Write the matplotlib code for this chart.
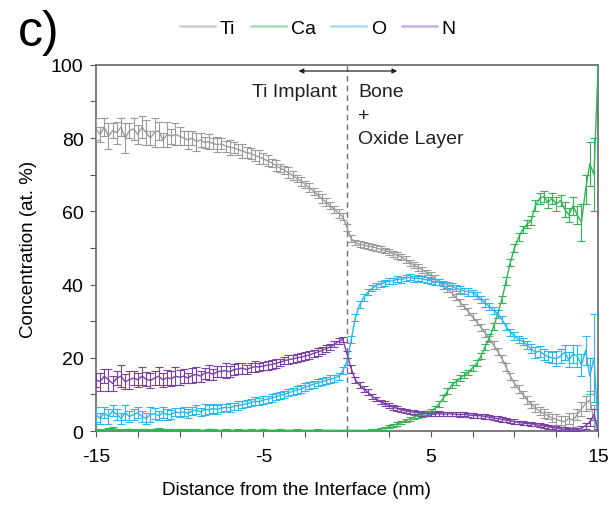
import numpy as np
import matplotlib
matplotlib.use("Agg")
import matplotlib.pyplot as plt
from matplotlib.lines import Line2D

plt.rcParams['font.family'] = ['Liberation Sans', 'DejaVu Sans']
plt.rcParams['axes.unicode_minus'] = False

# distance from the interface (nm), one point every 0.25 nm
dist = np.arange(-15, 15.001, 0.25)

ti = [82.5, 81, 83, 80.5, 82, 81.5, 83, 80, 82, 82.5, 81, 83, 81.5, 80, 81.5, 82, 79.5, 81, 80.5, 81, 80.5,
      80, 79.5, 80, 79, 79.5, 78.8, 79, 78.5, 78.2, 78.4, 77.8, 77.5, 77.3, 76.8, 76.5, 76, 75.8, 75.2, 74.8, 74.3,
      73.8, 73.2, 72.5, 71.8, 71.3, 70.5, 69.7, 69, 68.2, 67.3, 66.5, 65.5, 64.5, 63.4, 62.5, 61.5, 60.5, 59.5, 58.5, 55.5,
      52.5, 51.5, 51, 50.8, 50.5, 50.3, 50, 49.6, 49.3, 49, 48.4, 48, 47.5, 46.8, 46, 45.3, 44.7, 44, 43.3, 42.5,
      41.7, 40.7, 39.8, 38.8, 37.7, 36.5, 35.2, 34, 32.6, 31.2, 29.8, 28.3, 26.8, 25.2, 23.5, 21.8, 19.8, 17.5, 15, 13,
      11.5, 10, 8.5, 7.3, 6.3, 5.5, 4.8, 4.2, 3.6, 3.2, 2.8, 2.6, 3.5, 3, 4.5, 6, 7.5, 8.5, 3, 0.5]
ti_err = [3, 2, 2.5, 3.5, 2, 3, 2.5, 4, 2, 3, 2.5, 3, 3.5, 2, 4, 2.5, 2, 3.5, 2, 3, 2.5,
          2, 2.5, 2, 2.5, 2, 1.5, 2, 1.5, 2, 1.5, 1.5, 2, 1.5, 1.5, 2, 1.5, 1.5, 1.5, 2, 1.5,
          1.5, 1.2, 1.5, 1.2, 1.2, 1.5, 1.2, 1, 1.2, 1, 1.2, 1, 1, 1.2, 1, 1, 1, 1.2, 1, 1,
          1, 0.8, 0.8, 0.8, 0.8, 0.8, 0.8, 0.8, 0.8, 0.8, 0.8, 1, 0.8, 1, 0.8, 0.8, 1, 0.8, 0.8, 1,
          1, 0.8, 1, 0.8, 1, 0.8, 1, 0.8, 1, 1, 0.8, 1, 1, 0.8, 1, 1, 1, 1, 1, 1,
          1, 1, 1, 1, 1, 1, 1.2, 1, 1.2, 1.5, 1.2, 1.5, 1.5, 2, 1.5, 2, 2, 2.5, 4, 1]

ca = [0.4, 0.3, 0.2, 0.6, 0.8, 0.4, 0.2, 0.3, 0.5, 0.3,
      0.2, 0.4, 0.3, 0.2, 0.5, 0.6, 0.3, 0.2, 0.3, 0.2,
      0.3, 0.2, 0.4, 0.2, 0.3, 0.2, 0.2, 0.5, 0.3, 0.2,
      0.2, 0.3, 0.2, 0.2, 0.3, 0.2, 0.2, 0.3, 0.2, 0.2,
      0.3, 0.2, 0.2, 0.2, 0.3, 0.2, 0.2, 0.2, 0.3, 0.2,
      0.2, 0.2, 0.2, 0.3, 0.2, 0.2, 0.2, 0.2, 0.2, 0.2, 0.2,
      0.2, 0.2, 0.2, 0.2, 0.2, 0.3, 0.4, 0.5, 0.8, 1.2, 1.6, 2, 2.4, 2.9, 3.3, 3.8, 4.2, 4.5, 4.9, 5.3,
      6.2, 7.5, 9, 11, 12.5, 13.5, 14.5, 15.3, 16, 17.3, 18.5, 20.5, 23, 25.5, 28.5, 32, 36, 41, 46, 50,
      53, 55, 56.5, 57.5, 61.5, 63.5, 64, 62.5, 63.5, 62, 63, 60.5, 59, 61.5, 59, 57, 66, 73, 70, 100]
ca_err = [0.2] * 61 + \
         [0.2, 0.2, 0.2, 0.2, 0.2, 0.3, 0.3, 0.3, 0.4, 0.4, 0.4, 0.5, 0.5, 0.5, 0.5, 0.6, 0.6, 0.6, 0.6, 0.7,
          0.7, 0.8, 0.8, 0.8, 0.8, 0.8, 0.8, 0.8, 0.8, 0.8, 0.8, 0.9, 0.9, 0.9, 1, 1, 1, 1, 1, 1,
          1, 1, 1, 1.2, 1.5, 1.5, 1.5, 1.5, 1.5, 2, 1.5, 2, 2, 2.5, 2.5, 5, 4, 6, 10, 0]

oxy = [4.5, 3.5, 5, 4, 5.5, 4.5, 3.5, 5, 4, 4.5, 5, 4, 3.5, 4.5, 4.8, 4.2, 5, 4.5, 4.6, 5.2, 5,
       5.3, 4.8, 5.5, 5.8, 5.2, 6, 5.8, 6.2, 5.9, 6.3, 6.5, 6.4, 6.8, 7, 7.2, 7.5, 7.8, 8.2, 8, 8.5,
       8.7, 9, 9.4, 9.8, 10, 10.5, 10.8, 11.2, 11.5, 12, 12.4, 12.8, 13.2, 13.5, 13.8, 14.2, 14.4, 15, 16.5, 19,
       25, 31, 34.5, 36.5, 38, 39, 39.7, 40.2, 40.5, 41, 41, 41.5, 41.3, 41.8, 42, 41.6, 41.8, 41.5, 41.3, 41,
       40.8, 40.6, 40.3, 40, 39.6, 39, 38.6, 38.3, 38, 37.8, 37, 36, 35, 34, 33, 32, 30.5, 28.5, 27, 26,
       25, 24.5, 23.5, 22.5, 21.5, 21.8, 21, 20.3, 20, 19.8, 20.5, 21.5, 19.5, 21, 20.5, 18, 22, 15, 20, 1]
oxy_err = [2, 1.5, 1.5, 2, 1.5, 1.5, 1.5, 2, 1.5, 1.5, 1.5, 1.5, 1.5, 2, 1.5, 1.2, 1.5, 1.5, 1.2, 1.2, 1.2,
           1.2, 1.2, 1.2, 1.2, 1.2, 1.5, 1.2, 1.2, 1.2, 1.2, 1, 1.2, 1, 1.2, 1, 1, 1, 1.2, 1, 1,
           1, 1, 1, 1, 1, 1, 1, 1, 1, 1, 1, 1, 1, 1, 1, 1, 1, 1, 1, 1,
           1, 1, 1, 1, 0.8, 0.8, 0.8, 0.8, 0.8, 0.8, 0.8, 0.8, 0.8, 0.8, 0.8, 0.8, 0.8, 0.8, 0.8, 0.8,
           0.8, 0.8, 0.8, 0.8, 0.8, 0.8, 1, 0.8, 1, 0.8, 1, 1, 1, 1, 1, 1, 1, 1, 1, 1,
           1, 1, 1.2, 1.2, 1.5, 1.5, 1.5, 1.5, 1.5, 2, 2, 2, 2, 2.5, 3, 3, 4, 5, 12, 0]

nit = [14, 13.5, 15, 14, 13, 14.5, 15, 13.5, 14, 14.5, 14, 15, 14.2, 13.8, 14.5, 15, 14, 14.6, 14.3, 15, 14.7,
       15, 14.5, 15.2, 15.5, 15, 15.8, 16, 15.5, 16.2, 16.4, 16.5, 16.2, 16.8, 17, 17.2, 16.8, 17.3, 17.6, 17.5, 17.8,
       18, 18.2, 18.5, 18.8, 19.2, 19.5, 19.7, 20, 20.2, 20.5, 20.8, 21.2, 21.6, 22, 22.5, 23, 23.7, 24.5, 25, 21,
       17, 14, 12.5, 11.5, 10.6, 9.5, 8.8, 8, 7.5, 7, 6.5, 6.2, 5.8, 5.5, 5.3, 5.2, 5, 4.8, 4.8, 4.7,
       4.7, 4.8, 4.6, 4.7, 4.7, 4.6, 4.5, 4.6, 4.4, 4.3, 4.2, 4.2, 4, 3.8, 3.6, 3.4, 3.2, 3, 2.8, 2.6,
       2.4, 2.2, 2.1, 2, 1.8, 1.6, 1.4, 1.2, 1, 0.8, 0.6, 0.5, 0.4, 0.3, 0.4, 0.8, 1.5, 2.5, 4.5, 0.5]
nit_err = [2, 2.5, 2, 3, 2, 2, 3, 2, 2.5, 2, 2, 2.5, 2, 2, 2, 2.5, 2, 2, 2, 2.5, 2,
           2, 1.5, 2, 2, 1.5, 1.5, 2, 1.5, 1.5, 1.5, 2, 1.5, 1.5, 1.5, 1.5, 1.2, 1.2, 1.5, 1.2, 1.2,
           1.2, 1.2, 1.2, 1, 1, 1.2, 1, 1, 1, 1, 1, 1, 1, 1, 1, 0.8, 0.8, 0.8, 0.8, 1,
           1, 0.8, 0.8, 0.8, 0.8, 0.6, 0.6, 0.6, 0.6, 0.6, 0.6, 0.6, 0.6, 0.6, 0.6, 0.6, 0.6, 0.6, 0.6, 0.6,
           0.6, 0.6, 0.6, 0.6, 0.6, 0.6, 0.6, 0.6, 0.6, 0.6, 0.6, 0.6, 0.6, 0.6, 0.6, 0.6, 0.6, 0.6, 0.6, 0.6,
           0.5, 0.5, 0.5, 0.5, 0.5, 0.5, 0.5, 0.5, 0.5, 0.5, 0.5, 0.5, 0.5, 0.5, 0.5, 0.6, 0.8, 1, 1.5, 0]

series = [("Ti", ti, ti_err, "#9b9b9b", "#cfcfcf"),
          ("Ca", ca, ca_err, "#32b555", "#a6dfb6"),
          ("O", oxy, oxy_err, "#2db5ef", "#a9ddf3"),
          ("N", nit, nit_err, "#7b3fa8", "#c9b2dd")]

fig = plt.figure(figsize=(6.11, 5.06), dpi=100)
ax = fig.add_axes([0.157, 0.146, 0.822, 0.724])

for name, vals, err, col, _ in series:
    ax.errorbar(dist, vals, yerr=err, color=col, lw=1.0, elinewidth=0.8,
                capsize=3, capthick=0.8, zorder=3)

ax.axvline(0, color="#707070", ls=(0, (4, 3)), lw=1.0, zorder=2)
ax.annotate("", xy=(-2.9, 98.3), xytext=(3.0, 98.3),
            arrowprops=dict(arrowstyle="<|-|>", color="#222222", lw=0.9,
                            mutation_scale=7, shrinkA=0, shrinkB=0))
ax.text(-0.6, 92.6, "Ti Implant", ha="right", va="center", fontsize=14, color="#222222")
ax.text(0.65, 95.0, "Bone\n+\nOxide Layer", ha="left", va="top", fontsize=14,
        color="#222222", linespacing=1.5)

ax.set_xlim(-15, 15)
ax.set_ylim(0, 100)
ax.set_xticks([-15, -5, 5, 15])
ax.set_xticks(np.arange(-15, 15.1, 2.5), minor=True)
ax.set_yticks(np.arange(0, 101, 20))
ax.set_yticks(np.arange(0, 101, 10), minor=True)
ax.tick_params(which="both", direction="out", length=4, width=0.8, color="#555555",
               labelsize=14)
ax.tick_params(axis="x", pad=8)
ax.tick_params(axis="y", pad=5)
for sp in ax.spines.values():
    sp.set_color("#666666")
    sp.set_linewidth(1.2)

ax.set_xlabel("Distance from the Interface (nm)", fontsize=13.5)
ax.xaxis.set_label_coords(0.40, -0.135)
ax.set_ylabel("Concentration (at. %)", fontsize=13.5, labelpad=10)

handles = [Line2D([], [], color=lc, lw=1.8) for _, _, _, _, lc in series]
fig.legend(handles, [s[0] for s in series], loc="center", bbox_to_anchor=(0.52, 0.943),
           ncol=4, frameon=False, fontsize=14, handlelength=1.8, handletextpad=0.25,
           columnspacing=0.8)
fig.text(0.03, 0.935, "c)", fontsize=36, va="center", ha="left")

fig.savefig("out.png", dpi=100)
